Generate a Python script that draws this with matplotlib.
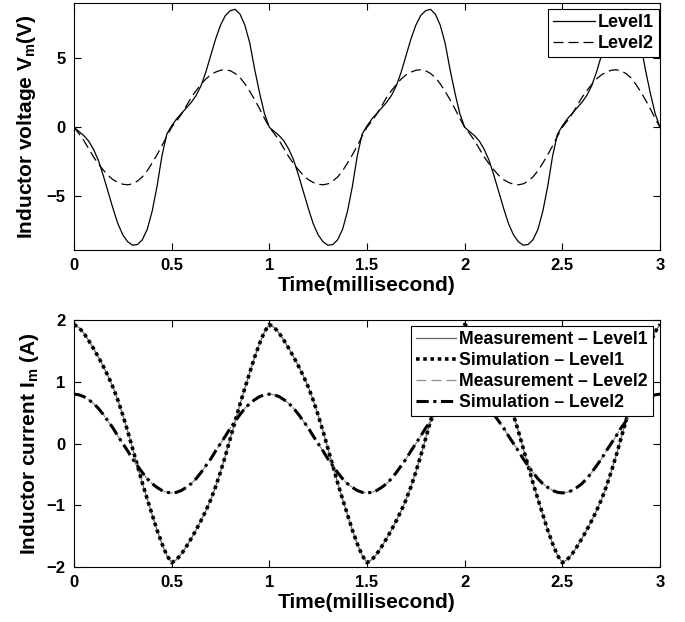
import numpy as np
import matplotlib
matplotlib.use("Agg")
import matplotlib.pyplot as plt
from matplotlib.ticker import FormatStrFormatter

plt.rcParams["font.family"] = ["Liberation Sans", "DejaVu Sans"]
plt.rcParams["font.weight"] = "bold"
plt.rcParams["mathtext.fontset"] = "custom"
plt.rcParams["mathtext.rm"] = "Liberation Sans:bold"
plt.rcParams["mathtext.it"] = "Liberation Sans:bold"
plt.rcParams["mathtext.bf"] = "Liberation Sans:bold"

# one period (0..1 ms, 0.025 ms steps); the traces repeat 3 times
t_period = [0.000, 0.025, 0.050, 0.075, 0.100, 0.125, 0.150, 0.175, 0.200, 0.225,
            0.250, 0.275, 0.300, 0.325, 0.350, 0.375, 0.400, 0.425, 0.450, 0.475,
            0.500, 0.525, 0.550, 0.575, 0.600, 0.625, 0.650, 0.675, 0.700, 0.725,
            0.750, 0.775, 0.800, 0.825, 0.850, 0.875, 0.900, 0.925, 0.950, 0.975, 1.000]
n_periods = 3

volt_level1 = [0.0, -0.3, -0.6, -1.0, -1.6, -2.4, -3.5, -4.7, -5.9, -7.0,
               -7.8, -8.3, -8.55, -8.5, -8.15, -7.4, -6.1, -4.3, -2.1, -0.5,
               0.1, 0.6, 1.0, 1.4, 1.8, 2.3, 3.0, 4.0, 5.2, 6.4,
               7.4, 8.1, 8.45, 8.55, 8.2, 7.4, 6.1, 4.2, 2.5, 1.0, 0.0]
volt_level2 = [0.0, -0.45, -0.95, -1.55, -2.15, -2.65, -3.1, -3.5, -3.8, -4.0,
               -4.13, -4.17, -4.1, -3.9, -3.6, -3.15, -2.6, -2.0, -1.35, -0.65,
               0.0, 0.45, 0.95, 1.55, 2.15, 2.65, 3.1, 3.5, 3.8, 4.0,
               4.13, 4.17, 4.1, 3.9, 3.6, 3.15, 2.6, 2.0, 1.35, 0.65, 0.0]

meas_level1 = [1.93, 1.88, 1.79, 1.67, 1.54, 1.40, 1.25, 1.09, 0.91, 0.70,
               0.46, 0.20, -0.08, -0.36, -0.64, -0.90, -1.15, -1.40, -1.62, -1.81,
               -1.93, -1.88, -1.79, -1.67, -1.54, -1.40, -1.25, -1.09, -0.91, -0.70,
               -0.46, -0.20, 0.08, 0.36, 0.64, 0.90, 1.15, 1.40, 1.62, 1.81, 1.93]
sim_level1 = [1.93, 1.88, 1.79, 1.67, 1.54, 1.40, 1.25, 1.09, 0.91, 0.70,
              0.46, 0.20, -0.08, -0.36, -0.64, -0.90, -1.15, -1.40, -1.62, -1.81,
              -1.93, -1.88, -1.79, -1.67, -1.54, -1.40, -1.25, -1.09, -0.91, -0.70,
              -0.46, -0.20, 0.08, 0.36, 0.64, 0.90, 1.15, 1.40, 1.62, 1.81, 1.93]
meas_level2 = [0.80, 0.79, 0.76, 0.71, 0.65, 0.57, 0.47, 0.36, 0.25, 0.12,
               0.00, -0.12, -0.25, -0.36, -0.47, -0.57, -0.65, -0.71, -0.76, -0.79,
               -0.80, -0.79, -0.76, -0.71, -0.65, -0.57, -0.47, -0.36, -0.25, -0.12,
               0.00, 0.12, 0.25, 0.36, 0.47, 0.57, 0.65, 0.71, 0.76, 0.79, 0.80]
sim_level2 = [0.80, 0.79, 0.76, 0.71, 0.65, 0.57, 0.47, 0.36, 0.25, 0.12,
              0.00, -0.12, -0.25, -0.36, -0.47, -0.57, -0.65, -0.71, -0.76, -0.79,
              -0.80, -0.79, -0.76, -0.71, -0.65, -0.57, -0.47, -0.36, -0.25, -0.12,
              0.00, 0.12, 0.25, 0.36, 0.47, 0.57, 0.65, 0.71, 0.76, 0.79, 0.80]


def repeat(vals):
    # chain the periods, dropping the duplicated joint point
    out = list(vals)
    for k in range(1, n_periods):
        out += list(vals[1:])
    return np.array(out)


time = np.concatenate([np.array(t_period)] +
                      [np.array(t_period[1:]) + k for k in range(1, n_periods)])


def style_axes(ax):
    ax.set_xlim(0, 3)
    ax.xaxis.set_major_formatter(FormatStrFormatter("%g"))
    ax.tick_params(direction="in", top=True, right=True, length=5, width=0.8,
                   labelsize=12, pad=6)
    for s in ax.spines.values():
        s.set_linewidth(0.8)
    ax.set_xlabel("Time(millisecond)", fontsize=15, fontweight="bold", labelpad=2)


def box_legend(ax, anchor, size, spacing):
    leg = ax.legend(loc="upper right", bbox_to_anchor=anchor, borderaxespad=0,
                    fontsize=size, handlelength=2.3, handletextpad=0.15,
                    labelspacing=spacing, borderpad=0.3, fancybox=False, framealpha=1)
    leg.get_frame().set_edgecolor("black")
    leg.get_frame().set_linewidth(0.8)
    return leg


fig = plt.figure(figsize=(6.85, 6.22), dpi=100)

# voltage
ax1 = fig.add_axes([0.108, 0.598, 0.8555, 0.397])
ax1.plot(time, repeat(volt_level1), color="black", lw=0.9, label="Level1")
ax1.plot(time, repeat(volt_level2), color="black", lw=0.9, linestyle=(0, (8, 4)),
         label="Level2")
ax1.set_ylim(-8.9, 9.0)
ax1.set_yticks([-5, 0, 5])
style_axes(ax1)
ax1.set_ylabel(r"Inductor voltage V$_{m}$(V)", fontsize=15, fontweight="bold",
               labelpad=6)
box_legend(ax1, (0.998, 0.976), 13, 0.2)

# current
ax2 = fig.add_axes([0.108, 0.0884, 0.8555, 0.397])
ax2.plot(time, repeat(meas_level1), color="0.4", lw=0.9, label="Measurement – Level1")
ax2.plot(time, repeat(sim_level1), color="black", lw=2.6, linestyle=(0, (1, 1)),
         label="Simulation – Level1")
ax2.plot(time, repeat(meas_level2), color="0.55", lw=0.9, linestyle=(0, (8, 4)),
         label="Measurement – Level2")
ax2.plot(time, repeat(sim_level2), color="black", lw=2.2, linestyle=(0, (4, 1.5, 1, 1.5)),
         label="Simulation – Level2")
ax2.set_ylim(-2, 2)
ax2.set_yticks([-2, -1, 0, 1, 2])
style_axes(ax2)
ax2.set_ylabel(r"Inductor current I$_{m}$ (A)", fontsize=15, fontweight="bold",
               labelpad=4)
box_legend(ax2, (0.988, 0.976), 12.7, 0.22)

fig.savefig("out.png", dpi=100)
